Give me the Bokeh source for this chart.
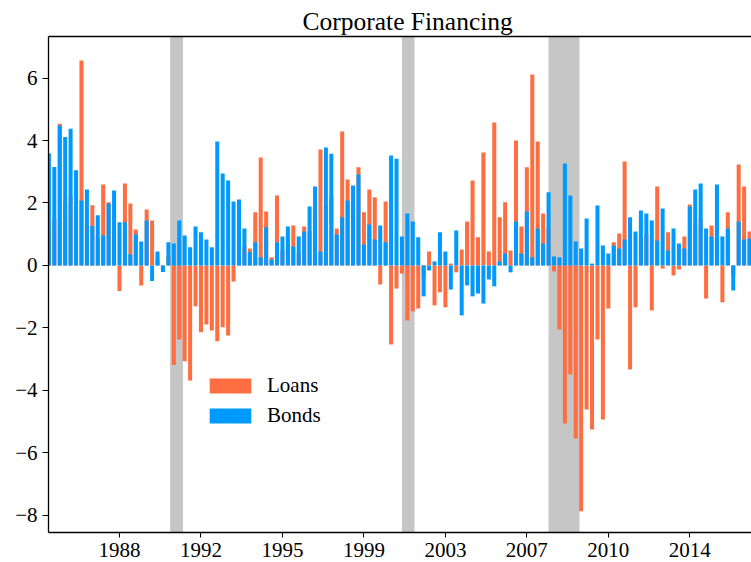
from bokeh.plotting import figure
from bokeh.models import (ColumnDataSource, FixedTicker, LinearAxis, BoxAnnotation,
                          Legend, LegendItem, Title)
from bokeh.embed import file_html
from bokeh.resources import INLINE

# ---------------- data (quarterly, starting 1985Q1) ----------------
start_year = 1985
loans = [1.2, 1.5, 4.54, 2.0, 2.2, 1.6, 6.56, 1.3, 1.93, 0.9,
         2.59, 2.02, 1.1, -0.82, 2.62, 1.98, 1.15, -0.64, 1.79, 1.44,
         0.2, -0.1, 0.3, -3.19, -2.37, -3.07, -3.68, -1.31, -2.14, -1.89,
         -2.08, -2.43, -1.98, -2.24, -0.51, 0.9, 0.6, 0.54, 1.70, 3.46,
         1.73, 0.26, 2.24, 0.5, 0.7, 1.28, 0.4, 1.25, 1.1, 1.6,
         3.71, 1.9, 2.2, 1.18, 4.29, 2.75, 1.8, 3.14, 1.70, 2.43,
         2.18, -0.61, 2.05, -2.53, -0.74, -0.26, -1.76, -1.47, -1.38, -0.4,
         0.45, -1.28, -0.86, -1.34, 0.06, -0.22, 0.51, 1.41, 2.72, 0.90,
         3.62, 0.45, 4.58, 1.54, 2.02, 0.48, 4.00, 1.25, 3.14, 6.11,
         3.97, 1.66, 1.2, -0.19, -2.05, -5.06, -3.49, -5.54, -7.87, -4.61,
         -5.25, -2.37, -4.93, -1.38, 0.74, 1.02, 3.33, -3.33, -1.34, 0.9,
         1.0, -1.44, 2.53, -0.10, 1.06, -0.32, -0.13, 0.93, 1.95, 1.3,
         1.5, -1.06, 1.28, 1.2, -1.18, 1.70, -0.3, 3.23, 2.53, 1.09]
bonds = [3.59, 3.15, 4.48, 4.11, 4.38, 3.05, 2.08, 2.43, 1.26, 1.61,
         0.97, 1.98, 2.40, 1.38, 1.38, 0.36, 1.00, 0.77, 1.44, -0.50,
         0.45, -0.21, 0.74, 0.70, 1.44, 0.96, 0.58, 1.25, 1.06, 0.83,
         0.58, 3.97, 2.94, 2.72, 2.05, 2.11, 1.18, 0.43, 0.74, 0.26,
         1.22, 0.19, 0.74, 0.93, 1.25, 0.61, 0.93, 1.09, 1.89, 2.53,
         0.45, 3.78, 3.58, 0.99, 1.54, 2.08, 2.56, 2.91, 0.67, 1.31,
         0.83, 1.28, 0.74, 3.52, 3.42, 0.93, 1.66, 1.41, 0.90, -0.99,
         -0.16, 0.13, 1.06, 0.45, -0.77, 1.12, -1.60, -0.64, -0.99, -0.90,
         -1.22, -0.45, -0.67, 0.13, 0.38, -0.22, 1.41, 0.38, 1.73, 0.26,
         1.18, 0.70, 2.34, 0.29, 0.26, 3.26, 2.24, 0.77, 0.54, 1.50,
         0.06, 1.92, 0.64, 0.38, 0.64, 0.54, 0.83, 1.54, 1.09, 1.76,
         1.66, 1.44, 0.80, 1.82, 0.48, 1.18, 0.70, 0.54, 1.89, 2.43,
         2.62, 1.18, 0.93, 2.59, 0.93, 1.18, -0.80, 1.41, 0.83, 0.86]

tick_quarters = ["1988Q2", "1992Q1", "1995Q4", "1999Q3", "2003Q2", "2007Q1", "2010Q4", "2014Q3"]
tick_labels = ["1988", "1992", "1995", "1999", "2003", "2007", "2010", "2014"]
y_ticks = [-8, -6, -4, -2, 0, 2, 4, 6]

recession_start = [1990.58, 2001.25, 2008.0]
recession_end = [1991.17, 2001.83, 2009.42]

# ---------------- derived ----------------
dates = [start_year + q / 4 for q in range(len(loans))]
def qpos(s):
    return int(s[:4]) + (int(s[-1]) - 1) / 4

src = ColumnDataSource(dict(x=dates, loans=loans, bonds=bonds))

LOAN_C = "#FF6E40"
BOND_C = "#0099FF"
FONT = "Liberation Serif"

p = figure(width=751, height=562, x_range=(1984.982, 2017.34), y_range=(-8.55, 7.33),
           output_backend="svg", toolbar_location=None,
           min_border_left=48, min_border_right=0, min_border_top=36, min_border_bottom=30)
p.title = Title(text="Corporate Financing", text_font=FONT, text_font_size="25.5px",
                text_font_style="normal", align="left", offset=254, standoff=2,
                text_color="black")

p.xgrid.visible = False
p.ygrid.visible = False
p.outline_line_color = None
p.background_fill_color = "white"
p.border_fill_color = "white"

for s, e in zip(recession_start, recession_end):
    p.add_layout(BoxAnnotation(left=s, right=e, fill_color="#C6C6C6", fill_alpha=1.0,
                               line_color=None, level="underlay"))

r_loans = p.vbar(x="x", top="loans", bottom=0, width=0.185, source=src,
                 fill_color=LOAN_C, line_color=None)
r_bonds = p.vbar(x="x", top="bonds", bottom=0, width=0.185, source=src,
                 fill_color=BOND_C, line_color=None)

for ax in (p.xaxis[0], p.yaxis[0]):
    ax.major_label_text_font = FONT
    ax.major_label_text_font_size = "21px"
    ax.major_label_text_color = "black"
    ax.major_tick_out = 5
    ax.major_tick_in = 0
    ax.minor_tick_line_color = None
    ax.axis_line_color = "black"
    ax.axis_line_width = 1.3
    ax.major_tick_line_color = "black"

p.xaxis[0].ticker = FixedTicker(ticks=[qpos(t) for t in tick_quarters])
p.xaxis[0].major_label_overrides = {qpos(t): l for t, l in zip(tick_quarters, tick_labels)}
p.xaxis[0].major_label_standoff = 5
p.yaxis[0].ticker = FixedTicker(ticks=y_ticks)
p.yaxis[0].major_label_overrides = {v: str(v).replace("-", "\u2212") for v in y_ticks}
p.yaxis[0].major_label_standoff = 5
p.yaxis[0].major_tick_out = 6

top_axis = LinearAxis(ticker=FixedTicker(ticks=[]), major_label_text_font_size="0px",
                      major_tick_line_color=None, minor_tick_line_color=None,
                      axis_line_color="black", axis_line_width=1.3,
                      major_tick_out=0, major_label_standoff=0)
p.add_layout(top_axis, "above")

legend = Legend(items=[LegendItem(label="Loans", renderers=[r_loans]),
                       LegendItem(label="Bonds", renderers=[r_bonds])],
                location=(156, 104), border_line_color=None, background_fill_alpha=0,
                padding=0, margin=0, spacing=5, glyph_width=52, glyph_height=19,
                label_height=15, label_standoff=11, label_text_font=FONT,
                label_text_font_size="21px", label_text_color="black")
p.add_layout(legend, "center")

open("out.html", "w").write(file_html(p, INLINE))
